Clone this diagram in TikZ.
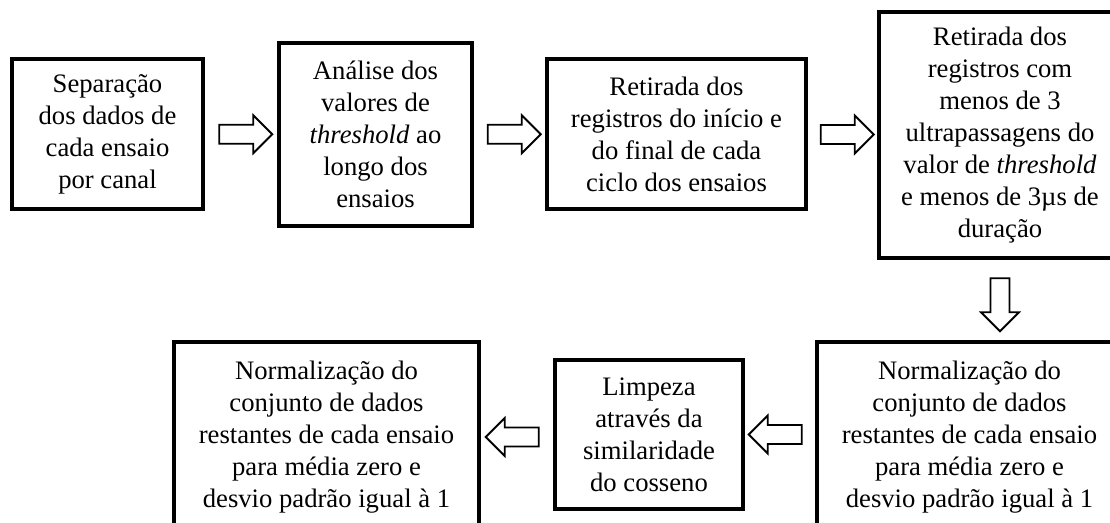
\documentclass[tikz,border=0pt]{standalone}
\usepackage{fontspec}
\setmainfont{Liberation Serif}
\usetikzlibrary{shapes.arrows,calc}
\tikzset{
  etapa/.style={draw,line width=2.3pt,align=center,inner sep=0pt,font=\fontsize{20}{24}\selectfont},
  seta/.style={draw,line width=1.4pt,single arrow,single arrow tip angle=90,
    minimum height=39.75pt,minimum width=26.25pt,inner xsep=0pt,inner ysep=6.4pt}
}
\begin{document}
\begin{tikzpicture}[x=0.75pt,y=0.75pt]
\clip (0,0) rectangle (1110,522);
\node[etapa,minimum width=143.25pt,minimum height=112.5pt] (e1) at (107.5,388) {Separação\\dos dados de\\cada ensaio\\por canal};
\node[etapa,minimum width=144.75pt,minimum height=137.25pt] (e2) at (375.5,387.5) {Análise dos\\valores de\\\textit{threshold} ao\\longo dos\\ensaios};
\node[etapa,minimum width=194.25pt,minimum height=112.5pt] (e3) at (676.5,388) {Retirada dos\\registros do início e\\do final de cada\\ciclo dos ensaios};
\node[etapa,minimum width=181.5pt,minimum height=184.5pt] (e4) at (1000,387) {Retirada dos\\registros com\\menos de 3\\ultrapassagens do\\valor de \textit{threshold}\\e menos de 3µs de\\duração};
\node[etapa,minimum width=228.75pt,minimum height=142.5pt] (e5) at (969.5,85) {Normalização do\\conjunto de dados\\restantes de cada ensaio\\para média zero e\\desvio padrão igual à 1};
\node[etapa,minimum width=141pt,minimum height=111.75pt] (e6) at (649,87.5) {Limpeza\\através da\\similaridade\\do cosseno};
\node[etapa,minimum width=228.75pt,minimum height=142.5pt] (e7) at (326.5,85) {Normalização do\\conjunto de dados\\restantes de cada ensaio\\para média zero e\\desvio padrão igual à 1};
% setas entre as etapas
\foreach \a/\b/\n in {e1/e2/s1,e2/e3/s2,e3/e4/s3}
  \node[seta] (\n) at ($(\a.east)!0.5!(\b.west)$) {};
\node[seta,shape border rotate=270,inner xsep=6.4pt,inner ysep=0pt] (s4) at ($(e4.south)!0.5!(e4.south |- e5.north)$) {};
\foreach \a/\b/\n in {e5/e6/s5,e6/e7/s6}
  \node[seta,shape border rotate=180] (\n) at ($(\b.east)!0.5!(\b.east -| \a.west)$) {};
\end{tikzpicture}
\end{document}
